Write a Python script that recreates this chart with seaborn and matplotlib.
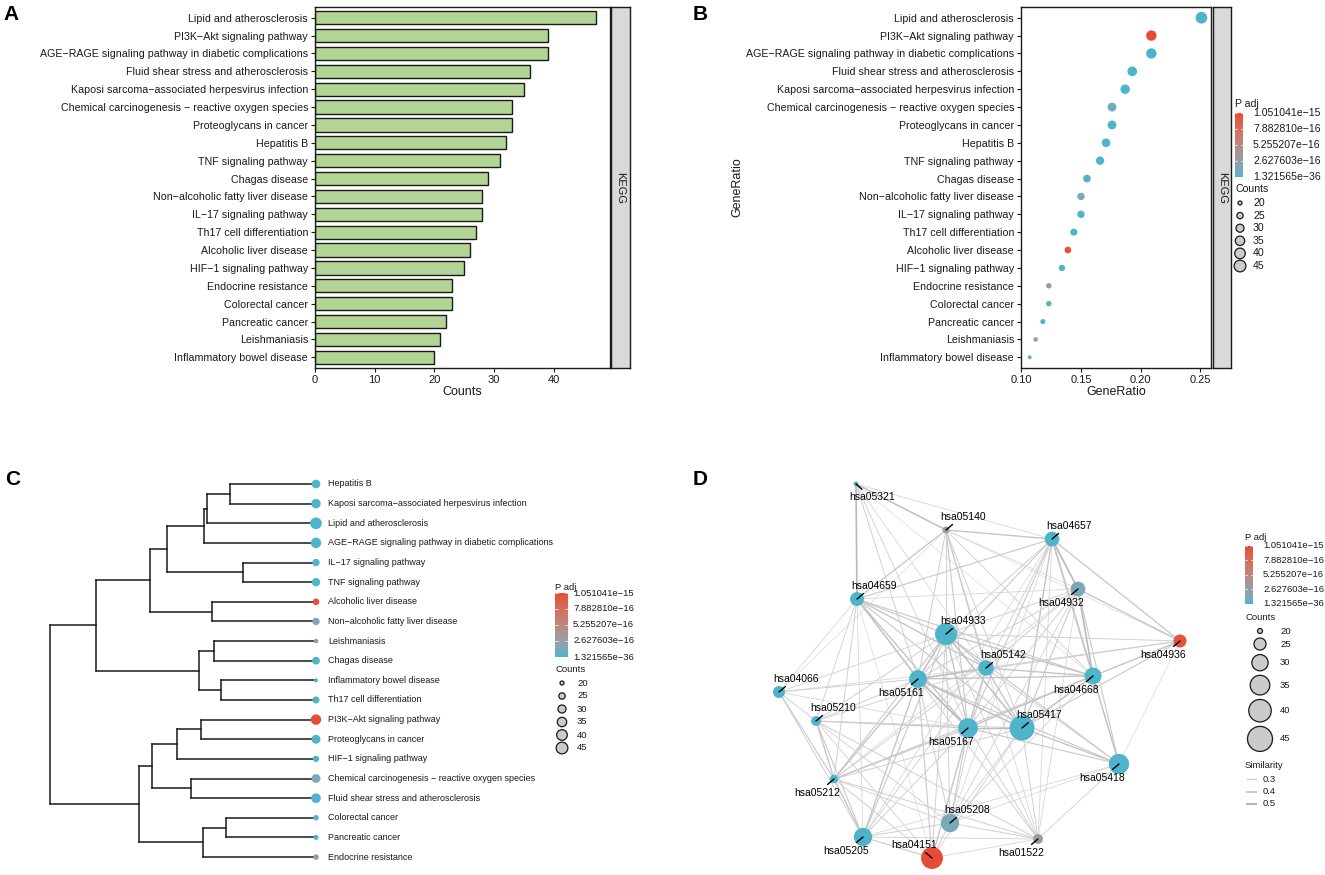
import numpy as np
import pandas as pd
import matplotlib
matplotlib.use("Agg")
import matplotlib.pyplot as plt
import matplotlib.transforms as mtrans
from matplotlib.colors import ListedColormap, Normalize, to_rgb
from matplotlib.collections import LineCollection
import seaborn as sns

sns.set_theme(style="white")
plt.rcParams["font.family"] = ["Liberation Sans", "DejaVu Sans"]

# ---------------------------------------------------------------- data
pathways = [
    "Lipid and atherosclerosis",
    "PI3K\u2212Akt signaling pathway",
    "AGE\u2212RAGE signaling pathway in diabetic complications",
    "Fluid shear stress and atherosclerosis",
    "Kaposi sarcoma\u2212associated herpesvirus infection",
    "Chemical carcinogenesis \u2212 reactive oxygen species",
    "Proteoglycans in cancer",
    "Hepatitis B",
    "TNF signaling pathway",
    "Chagas disease",
    "Non\u2212alcoholic fatty liver disease",
    "IL\u221217 signaling pathway",
    "Th17 cell differentiation",
    "Alcoholic liver disease",
    "HIF\u22121 signaling pathway",
    "Endocrine resistance",
    "Colorectal cancer",
    "Pancreatic cancer",
    "Leishmaniasis",
    "Inflammatory bowel disease",
]
counts = [47, 39, 39, 36, 35, 33, 33, 32, 31, 29, 28, 28, 27, 26, 25, 23, 23, 22, 21, 20]
gene_ratio = [0.251, 0.209, 0.209, 0.193, 0.187, 0.176, 0.176, 0.171, 0.166, 0.155,
              0.150, 0.150, 0.144, 0.139, 0.134, 0.123, 0.123, 0.118, 0.112, 0.107]
p_adj = [1.321565e-36, 1.051041e-15, 2.1e-31, 3.5e-27, 6.2e-25, 1.3e-16, 4.4e-24, 1.2e-23,
         2.3e-22, 3.1e-20, 1.5e-16, 5.0e-21, 8.6e-20, 1.0e-15, 7.4e-19, 2.7e-16, 2.6e-17,
         4.1e-18, 2.6e-16, 5.2e-17]
kegg_ids = ["hsa05417", "hsa04151", "hsa04933", "hsa05418", "hsa05167", "hsa05208",
            "hsa05205", "hsa05161", "hsa04668", "hsa05142", "hsa04932", "hsa04657",
            "hsa04659", "hsa04936", "hsa04066", "hsa01522", "hsa05210", "hsa05212",
            "hsa05140", "hsa05321"]

# colourbar breaks shown in the legends
padj_breaks = [1.051041e-15, 7.882810e-16, 5.255207e-16, 2.627603e-16, 1.321565e-36]
padj_break_labels = ["1.051041e\u221215", "7.882810e\u221216", "5.255207e\u221216",
                     "2.627603e\u221216", "1.321565e\u221236"]
count_breaks = [20, 25, 30, 35, 40, 45]
similarity_breaks = [0.3, 0.4, 0.5]

# dendrogram (panel C): (merge height, left, right)
tree = (1.000,
        (0.827,
         (0.625,
          (0.562,
           (0.422,
            (0.411,
             (0.322, "Hepatitis B", "Kaposi sarcoma\u2212associated herpesvirus infection"),
             "Lipid and atherosclerosis"),
            "AGE\u2212RAGE signaling pathway in diabetic complications"),
           (0.274, "IL\u221217 signaling pathway", "TNF signaling pathway")),
          (0.391, "Alcoholic liver disease", "Non\u2212alcoholic fatty liver disease")),
         (0.440,
          (0.385, "Leishmaniasis", "Chagas disease"),
          (0.359, "Inflammatory bowel disease", "Th17 cell differentiation"))),
        (0.665,
         (0.617,
          (0.524,
           (0.432, "PI3K\u2212Akt signaling pathway", "Proteoglycans in cancer"),
           "HIF\u22121 signaling pathway"),
          (0.470, "Chemical carcinogenesis \u2212 reactive oxygen species",
           "Fluid shear stress and atherosclerosis")),
         (0.426,
          (0.337, "Colorectal cancer", "Pancreatic cancer"),
          "Endocrine resistance")))

# network layout (panel D), in the order of kegg_ids
net_x = [2.62, 1.72, 1.86, 3.59, 2.08, 1.90, 1.03, 1.58, 3.33, 2.26,
         3.18, 2.92, 0.97, 4.20, 0.19, 2.78, 0.56, 0.74, 1.86, 0.96]
net_y = [1.47, 0.17, 2.41, 1.11, 1.47, 0.52, 0.38, 1.96, 1.99, 2.07,
         2.86, 3.36, 2.76, 2.34, 1.83, 0.36, 1.54, 0.96, 3.45, 3.91]
label_side = ["ur", "ul", "ur", "dl", "dl", "ur", "dl", "dl", "dl", "ur",
              "dl", "ur", "ur", "dl", "ur", "dl", "ur", "dl", "ur", "dr"]

edges = [
    ("hsa05321", "hsa04659", 0.50), ("hsa05321", "hsa05140", 0.45), ("hsa05321", "hsa04657", 0.25),
    ("hsa05321", "hsa05161", 0.30), ("hsa05321", "hsa05167", 0.28), ("hsa05321", "hsa05142", 0.25),
    ("hsa05321", "hsa04668", 0.22),
    ("hsa05140", "hsa04657", 0.40), ("hsa05140", "hsa04659", 0.38), ("hsa05140", "hsa04933", 0.30),
    ("hsa05140", "hsa05161", 0.32), ("hsa05140", "hsa05167", 0.35), ("hsa05140", "hsa05142", 0.40),
    ("hsa05140", "hsa04932", 0.25), ("hsa05140", "hsa04668", 0.28), ("hsa05140", "hsa05417", 0.30),
    ("hsa05140", "hsa04936", 0.22), ("hsa05140", "hsa04066", 0.22), ("hsa05140", "hsa01522", 0.25),
    ("hsa04657", "hsa04659", 0.35), ("hsa04657", "hsa04932", 0.50), ("hsa04657", "hsa04668", 0.50),
    ("hsa04657", "hsa04936", 0.38), ("hsa04657", "hsa05161", 0.35), ("hsa04657", "hsa05167", 0.35),
    ("hsa04657", "hsa05142", 0.30), ("hsa04657", "hsa05417", 0.40), ("hsa04657", "hsa04933", 0.30),
    ("hsa04657", "hsa05418", 0.32), ("hsa04657", "hsa05208", 0.25), ("hsa04657", "hsa01522", 0.25),
    ("hsa04657", "hsa05205", 0.25),
    ("hsa04659", "hsa04933", 0.35), ("hsa04659", "hsa05161", 0.45), ("hsa04659", "hsa05142", 0.40),
    ("hsa04659", "hsa05167", 0.40), ("hsa04659", "hsa04668", 0.35), ("hsa04659", "hsa05417", 0.35),
    ("hsa04659", "hsa04066", 0.25), ("hsa04659", "hsa05210", 0.28), ("hsa04659", "hsa05212", 0.30),
    ("hsa04659", "hsa05205", 0.25), ("hsa04659", "hsa04932", 0.25), ("hsa04659", "hsa04151", 0.22),
    ("hsa04932", "hsa04936", 0.40), ("hsa04932", "hsa04933", 0.30), ("hsa04932", "hsa04668", 0.50),
    ("hsa04932", "hsa05418", 0.35), ("hsa04932", "hsa05161", 0.30), ("hsa04932", "hsa05167", 0.30),
    ("hsa04932", "hsa05417", 0.35), ("hsa04932", "hsa05142", 0.30), ("hsa04932", "hsa05212", 0.25),
    ("hsa04932", "hsa01522", 0.25), ("hsa04932", "hsa05208", 0.28),
    ("hsa04933", "hsa05161", 0.45), ("hsa04933", "hsa05167", 0.40), ("hsa04933", "hsa05142", 0.40),
    ("hsa04933", "hsa05417", 0.45), ("hsa04933", "hsa04668", 0.40), ("hsa04933", "hsa04936", 0.30),
    ("hsa04933", "hsa05212", 0.35), ("hsa04933", "hsa05205", 0.35), ("hsa04933", "hsa04151", 0.30),
    ("hsa04933", "hsa05208", 0.30), ("hsa04933", "hsa05418", 0.35), ("hsa04933", "hsa01522", 0.28),
    ("hsa04933", "hsa05210", 0.30), ("hsa04933", "hsa04066", 0.28),
    ("hsa04936", "hsa04668", 0.40), ("hsa04936", "hsa05417", 0.35), ("hsa04936", "hsa05161", 0.30),
    ("hsa04936", "hsa05142", 0.30), ("hsa04936", "hsa05418", 0.22),
    ("hsa05142", "hsa05161", 0.45), ("hsa05142", "hsa04668", 0.40), ("hsa05142", "hsa05417", 0.40),
    ("hsa05142", "hsa05167", 0.40), ("hsa05142", "hsa05418", 0.30), ("hsa05142", "hsa05208", 0.28),
    ("hsa05142", "hsa04151", 0.28), ("hsa05142", "hsa05212", 0.28), ("hsa05142", "hsa05205", 0.28),
    ("hsa05142", "hsa05210", 0.28), ("hsa05142", "hsa04066", 0.25),
    ("hsa04066", "hsa05161", 0.30), ("hsa04066", "hsa05210", 0.30), ("hsa04066", "hsa05212", 0.35),
    ("hsa04066", "hsa05205", 0.30), ("hsa04066", "hsa05167", 0.25),
    ("hsa05161", "hsa05167", 0.50), ("hsa05161", "hsa05417", 0.45), ("hsa05161", "hsa04668", 0.40),
    ("hsa05161", "hsa05418", 0.35), ("hsa05161", "hsa05212", 0.40), ("hsa05161", "hsa05205", 0.40),
    ("hsa05161", "hsa04151", 0.35), ("hsa05161", "hsa05208", 0.30), ("hsa05161", "hsa01522", 0.30),
    ("hsa05161", "hsa05210", 0.30),
    ("hsa04668", "hsa05417", 0.45), ("hsa04668", "hsa05418", 0.40), ("hsa04668", "hsa05167", 0.40),
    ("hsa04668", "hsa05212", 0.35), ("hsa04668", "hsa05208", 0.28),
    ("hsa05210", "hsa05212", 0.40), ("hsa05210", "hsa05205", 0.35), ("hsa05210", "hsa05167", 0.35),
    ("hsa05210", "hsa05417", 0.30), ("hsa05210", "hsa01522", 0.30), ("hsa05210", "hsa04151", 0.28),
    ("hsa05210", "hsa05208", 0.28),
    ("hsa05167", "hsa05417", 0.45), ("hsa05167", "hsa05418", 0.35), ("hsa05167", "hsa05208", 0.35),
    ("hsa05167", "hsa04151", 0.35), ("hsa05167", "hsa01522", 0.30), ("hsa05167", "hsa05212", 0.35),
    ("hsa05167", "hsa05205", 0.30),
    ("hsa05417", "hsa05418", 0.40), ("hsa05417", "hsa01522", 0.30), ("hsa05417", "hsa05208", 0.28),
    ("hsa05417", "hsa05212", 0.30), ("hsa05417", "hsa04151", 0.28),
    ("hsa05418", "hsa01522", 0.28), ("hsa05418", "hsa05205", 0.25), ("hsa05418", "hsa05208", 0.25),
    ("hsa05212", "hsa05205", 0.40), ("hsa05212", "hsa04151", 0.30), ("hsa05212", "hsa05208", 0.28),
    ("hsa05212", "hsa01522", 0.30),
    ("hsa05208", "hsa01522", 0.30), ("hsa05208", "hsa05205", 0.30), ("hsa05208", "hsa04151", 0.30),
    ("hsa05205", "hsa04151", 0.35), ("hsa05205", "hsa01522", 0.28), ("hsa04151", "hsa01522", 0.25),
]

# ---------------------------------------------------------------- style helpers
TXT = "#1a1a1a"
BAR = "#B2D596"
LOW, HIGH = "#4DB4CC", "#E64B35"
_M = np.array([[0.4124564, 0.3575761, 0.1804375],
               [0.2126729, 0.7151522, 0.0721750],
               [0.0193339, 0.1191920, 0.9503041]])
_WHITE = np.array([0.95047, 1.0, 1.08883])


def srgb_to_lab(rgb):
    rgb = np.asarray(rgb, float)
    lin = np.where(rgb <= 0.04045, rgb / 12.92, ((rgb + 0.055) / 1.055) ** 2.4)
    t = (lin @ _M.T) / _WHITE
    d = 6 / 29
    f = np.where(t > d ** 3, np.cbrt(t), t / (3 * d * d) + 4 / 29)
    return np.stack([116 * f[..., 1] - 16, 500 * (f[..., 0] - f[..., 1]),
                     200 * (f[..., 1] - f[..., 2])], -1)


def lab_to_srgb(lab):
    fy = (lab[..., 0] + 16) / 116
    f = np.stack([fy + lab[..., 1] / 500, fy, fy - lab[..., 2] / 200], -1)
    d = 6 / 29
    t = np.where(f > d, f ** 3, 3 * d * d * (f - 4 / 29))
    lin = np.clip((t * _WHITE) @ np.linalg.inv(_M).T, 0, 1)
    rgb = np.where(lin <= 0.0031308, 12.92 * lin, 1.055 * lin ** (1 / 2.4) - 0.055)
    return np.clip(rgb, 0, 1)


lab_lo, lab_hi = srgb_to_lab(to_rgb(LOW)), srgb_to_lab(to_rgb(HIGH))
tt = np.linspace(0, 1, 256)[:, None]
cmap = ListedColormap(lab_to_srgb(lab_lo * (1 - tt) + lab_hi * tt))
P_MIN, P_MAX = min(p_adj), max(p_adj)
norm = Normalize(P_MIN, P_MAX)

S_SMALL = (8.3, 71.0)     # dot areas for counts 20 / 45 in panels B, C
S_NET = (13.0, 324.0)     # node areas for counts 20 / 45 in panel D


def s_of(c, rng):
    return rng[0] + (c - 20) / 25.0 * (rng[1] - rng[0])


def edge_lw(s):
    return 0.4 + (s - 0.2) * 2.7


def edge_col(s):
    g = 0.85 - (s - 0.2) * 0.42
    return (g, g, g)


W, H = 1325.0, 875.0
fig = plt.figure(figsize=(13.25, 8.75), dpi=100)


def rect(l, t, r, b):
    return [l / W, 1 - b / H, (r - l) / W, (b - t) / H]


def style_box(ax):
    for sp in ax.spines.values():
        sp.set_visible(True)
        sp.set_color(TXT)
        sp.set_linewidth(1.0)
    ax.tick_params(axis="both", length=3, width=0.8, color=TXT, labelcolor=TXT,
                   labelsize=7.7, pad=2, left=True, bottom=True)


def strip(l, t, r, b):
    sax = fig.add_axes(rect(l, t, r, b))
    sax.set_facecolor("#D9D9D9")
    sax.set_xticks([])
    sax.set_yticks([])
    for sp in sax.spines.values():
        sp.set_visible(True)
        sp.set_color(TXT)
        sp.set_linewidth(1.0)
    sax.text(0.5, 0.5, "KEGG", rotation=-90, ha="center", va="center", fontsize=8,
             color=TXT, transform=sax.transAxes)


df = pd.DataFrame({"pathway": pathways, "counts": counts, "ratio": gene_ratio,
                   "padj": p_adj, "id": kegg_ids})
n = len(pathways)

# ---------------------------------------------------------------- panel A
axA = fig.add_axes(rect(315, 7, 610, 368))
sns.barplot(data=df, x="counts", y="pathway", orient="h", color=BAR, saturation=1,
            edgecolor=TXT, linewidth=1.0, width=0.74, errorbar=None, ax=axA)
axA.set_xlim(0, 49.4)
axA.set_ylim(n - 0.4, -0.6)
axA.set_xticks([0, 10, 20, 30, 40])
axA.set_xlabel("Counts", fontsize=9, color=TXT, labelpad=1)
axA.set_ylabel("")
style_box(axA)
axA.tick_params(axis="x", labelsize=8)
strip(611, 7, 630, 368)

# ---------------------------------------------------------------- panel B
axB = fig.add_axes(rect(1021, 7, 1211, 368))
sns.scatterplot(x=gene_ratio, y=np.arange(n), hue=p_adj, size=counts, palette=cmap,
                hue_norm=norm, sizes=S_SMALL, size_norm=(20, 45), linewidth=0,
                legend=False, ax=axB, zorder=3)
axB.set_xlim(0.0997, 0.2590)
axB.set_ylim(n - 0.4, -0.6)
axB.set_yticks(np.arange(n))
axB.set_yticklabels(pathways)
axB.set_xticks([0.10, 0.15, 0.20, 0.25])
axB.set_xticklabels(["0.10", "0.15", "0.20", "0.25"])
axB.set_xlabel("GeneRatio", fontsize=9, color=TXT, labelpad=1)
axB.set_ylabel("GeneRatio", fontsize=9, color=TXT)
axB.yaxis.set_label_coords((743 - 1021) / 190.0, 0.5)
style_box(axB)
axB.tick_params(axis="x", labelsize=8)
strip(1213, 7, 1231, 368)

# ---------------------------------------------------------------- panel C
axC = fig.add_axes(rect(40, 470, 330, 870))
segs, leaf_order = [], []


def walk(node):
    if isinstance(node, str):
        leaf_order.append(node)
        return 0.0, len(leaf_order) - 1.0
    h, a, b = node
    ha_, ya = walk(a)
    hb, yb = walk(b)
    segs.append([(h, ya), (h, yb)])
    segs.append([(h, ya), (ha_, ya)])
    segs.append([(h, yb), (hb, yb)])
    return h, (ya + yb) / 2.0


walk(tree)
axC.add_collection(LineCollection(segs, colors=TXT, linewidths=1.1, capstyle="projecting"))
leaf_df = df.set_index("pathway").loc[leaf_order].reset_index()
sns.scatterplot(x=np.zeros(n), y=np.arange(n), hue=leaf_df["padj"].values,
                size=leaf_df["counts"].values, palette=cmap, hue_norm=norm, sizes=S_SMALL,
                size_norm=(20, 45), linewidth=0, legend=False, ax=axC, zorder=3)
tr = mtrans.offset_copy(axC.transData, fig=fig, x=12, y=0, units="dots")
for i, name in enumerate(leaf_order):
    axC.text(0, i, name, transform=tr, ha="left", va="center", fontsize=6.5, color=TXT)
axC.set_xlim(1.0376, -0.0526)
axC.set_ylim(n - 1 + 0.66, -0.713)
axC.axis("off")

# ---------------------------------------------------------------- panel D
axD = fig.add_axes(rect(760, 470, 1200, 875))
pos = {k: (x, y) for k, x, y in zip(kegg_ids, net_x, net_y)}
axD.add_collection(LineCollection([[pos[a], pos[b]] for a, b, s in edges],
                                  linewidths=[edge_lw(s) for a, b, s in edges],
                                  colors=[edge_col(s) for a, b, s in edges], zorder=1))
sns.scatterplot(x=net_x, y=net_y, hue=p_adj, size=counts, palette=cmap, hue_norm=norm,
                sizes=S_NET, size_norm=(20, 45), linewidth=0, legend=False, ax=axD, zorder=2)
side_off = {"ur": ((16.7, 13.0), (6.5, 5.5)), "dl": ((-17.3, -13.8), (-6.5, -5.5)),
            "ul": ((-17.4, 12.7), (-6.5, 5.5)), "dr": ((16.0, -12.7), (6.0, -5.3))}
for k, x, y, sd in zip(kegg_ids, net_x, net_y, label_side):
    (tx, ty), (sx, sy) = side_off[sd]
    axD.annotate("", xy=(x, y), xytext=(sx * 0.72, sy * 0.72), textcoords="offset points",
                 arrowprops=dict(arrowstyle="-", color="black", lw=1.0, shrinkA=0, shrinkB=0),
                 zorder=4)
    axD.annotate(k, xy=(x, y), xytext=(tx * 0.72, ty * 0.72), textcoords="offset points",
                 ha="center", va="center", fontsize=7.5, color="black", zorder=5)
axD.set_xlim(0, 4.4)
axD.set_ylim(0, 4.05)
axD.axis("off")

# ---------------------------------------------------------------- legends & letters
lg = fig.add_axes([0, 0, 1, 1], zorder=10)
lg.set_xlim(0, W)
lg.set_ylim(H, 0)
lg.axis("off")
lg.patch.set_alpha(0)


def padj_bar(l, t, r, b, label_x, fs):
    cax = fig.add_axes(rect(l, t, r, b), zorder=11)
    edges_y = np.linspace(0, 1, 257)
    centers = (edges_y[:-1] + edges_y[1:]) / 2
    cax.pcolormesh([0, 1], edges_y, centers[:, None], cmap=cmap, vmin=0, vmax=1,
                   shading="flat", antialiased=False, edgecolors="none")
    cax.set_xlim(0, 1)
    cax.set_ylim(0, 1)
    cax.axis("off")
    bt = mtrans.blended_transform_factory(cax.transAxes, cax.transData)
    for v, lab in zip(padj_breaks, padj_break_labels):
        yv = norm(v)
        cax.plot([0, 0.2], [yv, yv], color="white", lw=0.5)
        cax.plot([0.8, 1], [yv, yv], color="white", lw=0.5)
        cax.text((label_x - l) / (r - l), yv, lab, transform=bt, ha="left", va="center",
                 fontsize=fs, color=TXT, clip_on=False)


def count_keys(xc, ys, label_x, rng, fs):
    lg.scatter([xc] * len(count_breaks), ys, s=[s_of(c, rng) for c in count_breaks],
               facecolor="#CBCBCB", edgecolor=TXT, linewidths=0.9, zorder=12)
    for y, c in zip(ys, count_breaks):
        lg.text(label_x, y, str(c), ha="left", va="center", fontsize=fs, color=TXT)


# B legend
lg.text(1235, 104, "P adj", ha="left", va="center", fontsize=7.6, color=TXT)
padj_bar(1235, 113, 1243, 177, 1253, 7.6)
lg.text(1235, 189, "Counts", ha="left", va="center", fontsize=7.6, color=TXT)
count_keys(1240, [203 + 12.6 * i for i in range(6)], 1253, S_SMALL, 7.6)

# C legend
lg.text(555, 587, "P adj", ha="left", va="center", fontsize=6.8, color=TXT)
padj_bar(555, 593, 568, 657, 573, 6.8)
lg.text(555, 670, "Counts", ha="left", va="center", fontsize=6.8, color=TXT)
count_keys(562, [683 + 13.0 * i for i in range(6)], 577, S_SMALL, 6.8)

# D legend
lg.text(1245, 537, "P adj", ha="left", va="center", fontsize=6.8, color=TXT)
padj_bar(1245, 546, 1253, 604, 1263, 6.8)
lg.text(1245, 618, "Counts", ha="left", va="center", fontsize=6.8, color=TXT)
diam = [np.sqrt(s_of(c, S_NET)) * 100 / 72 for c in count_breaks]
ys = [631.0]
for i in range(1, len(diam)):
    ys.append(ys[-1] + (diam[i - 1] + diam[i]) / 2 + 4.5)
count_keys(1260, ys, 1280, S_NET, 6.8)
lg.text(1245, 766, "Similarity", ha="left", va="center", fontsize=6.8, color=TXT)
for v, y in zip(similarity_breaks, [779, 792, 804]):
    lg.plot([1246, 1257], [y, y], lw=edge_lw(v) + 0.3, color=edge_col(v), solid_capstyle="butt")
    lg.text(1263, y, f"{v:.1f}", ha="left", va="center", fontsize=6.8, color=TXT)

for letter, x, y in [("A", 3, 20), ("B", 693, 20), ("C", 5, 485), ("D", 693, 485)]:
    lg.text(x, y, letter, ha="left", va="baseline", fontsize=15, fontweight="bold", color="black")

fig.savefig("out.png", dpi=100)
